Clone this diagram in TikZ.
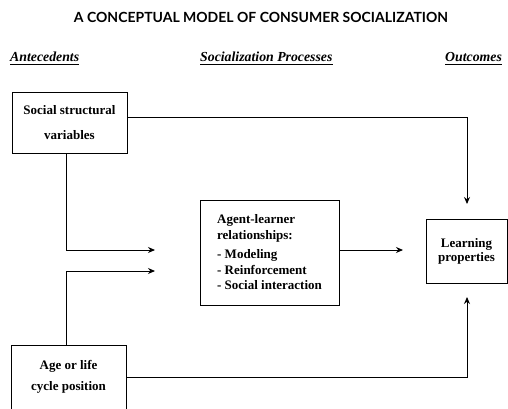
\documentclass[tikz,border=0pt]{standalone}
\usepackage{fontspec}
\setmainfont{Liberation Serif}
\newfontfamily\serifbox{Liberation Serif}
\newfontfamily\titlefont{Lato}
\usetikzlibrary{arrows.meta,calc}
\tikzset{
  box/.style={draw, line width=1pt, inner sep=0pt, font=\serifbox\fontsize{13}{15.5}\selectfont\bfseries},
  conn/.style={line width=0.9pt},
  arr/.style={conn, -{Stealth[length=7pt,width=6pt]}},
  hdr/.style={font=\serifbox\fontsize{13.8}{15}\selectfont\bfseries\itshape, inner sep=0pt, anchor=base west},
  uline/.style={line width=0.8pt}
}
\begin{document}
\begin{tikzpicture}[x=1pt,y=-1pt]
\useasboundingbox (0,0) rectangle (508,408);
\node[font=\titlefont\fontsize{14}{16}\selectfont\bfseries, inner sep=0pt] (title) at (261,17) {A CONCEPTUAL MODEL OF CONSUMER SOCIALIZATION};
\node[hdr] (h1) at (10,61) {Antecedents};
\node[hdr] (h2) at (200,61) {Socialization Processes};
\node[hdr] (h3) at (445,61) {Outcomes};
\draw[uline] (h1.base west) ++(0,3) -- ($(h1.base east)+(0,3)$);
\draw[uline] (h2.base west) ++(0,3) -- ($(h2.base east)+(0,3)$);
\draw[uline] (h3.base west) ++(0,3) -- ($(h3.base east)+(0,3)$);

\node[box, minimum width=115pt, minimum height=61pt, align=center] (social) at (69.5,122.5) {Social structural\\[9pt]variables};
\node[box, minimum width=115pt, minimum height=64pt, align=center] (age) at (68.5,377) {Age or life\\[5pt]cycle position};
\node[box, minimum width=139pt, minimum height=105pt, align=left] (agent) at (269.5,252.5) {Agent-learner\\relationships:\\[4pt]- Modeling\\- Reinforcement\\- Social interaction};
\node[box, minimum width=81pt, minimum height=64pt, align=center, font=\serifbox\fontsize{13}{14}\selectfont\bfseries] (learn) at (466.5,251) {Learning\\properties};

\coordinate (a1) at (155,250);
\coordinate (a2) at (155,271);
\coordinate (a3) at (403,250);
\coordinate (a4) at (467,204);
\coordinate (a5) at (467,297);

\draw[arr] ($(social.east)+(0,-5.5)$) -| (a4);
\draw[arr] ([xshift=-3.5pt]social.south) |- (a1);
\draw[arr] ([xshift=-2.5pt]age.north) |- (a2);
\draw[arr] ($(agent.east)+(0,-2.5)$) -- (a3);
\draw[arr] (age.east) -| (a5);
\end{tikzpicture}
\end{document}
